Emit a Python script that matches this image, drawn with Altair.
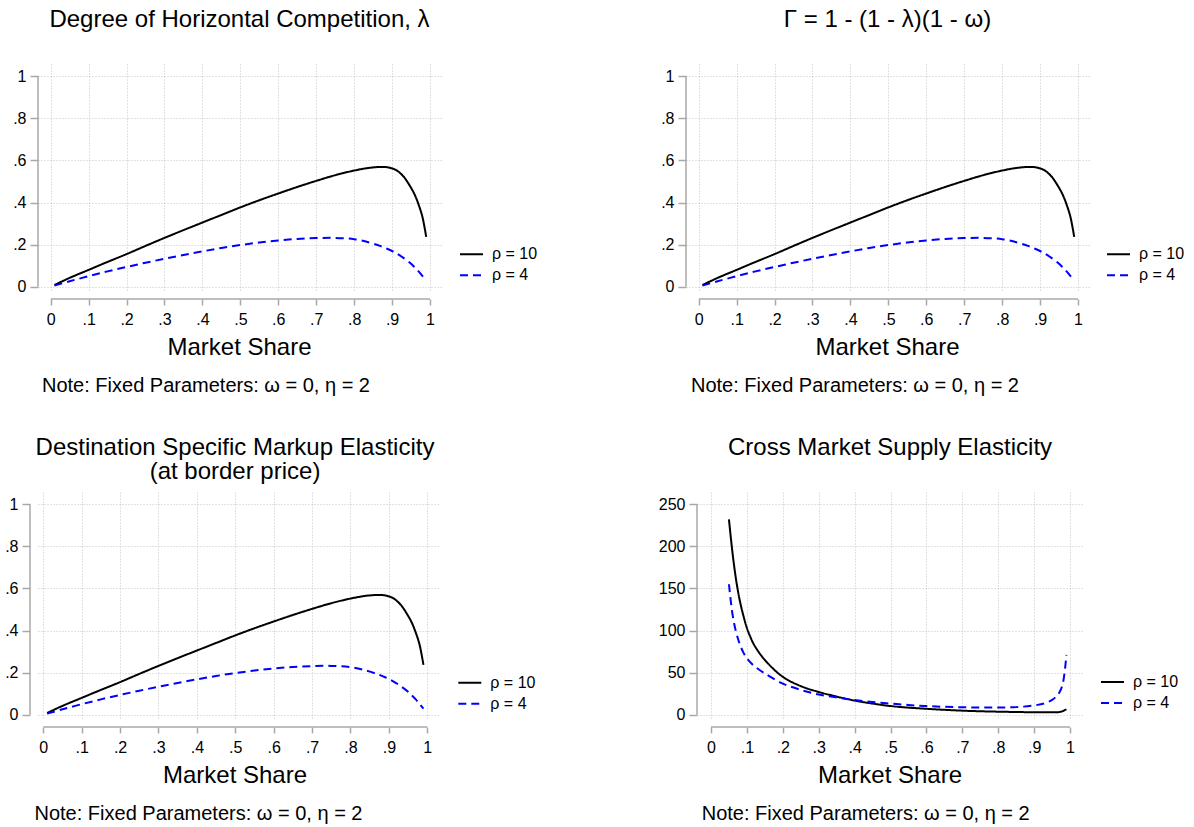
import altair as alt
import pandas as pd

FONT = "Liberation Sans"
SERIES = ["ρ = 10", "ρ = 4"]
LINE_COLORS = ["#000000", "#0000ff"]
LINE_DASHES = [[1, 0], [8, 5]]
AXIS_GRAY = "#a8a8a8"
GRID_GRAY = "#c4c4c4"

# ---- data -------------------------------------------------------------
share_a = [0.01, 0.05, 0.10, 0.15, 0.20, 0.25, 0.30, 0.35, 0.40, 0.45, 0.50,
           0.55, 0.60, 0.65, 0.70, 0.75, 0.80, 0.84, 0.87, 0.89, 0.91, 0.93,
           0.95, 0.96, 0.97, 0.98, 0.99]
lambda_rho10 = [0.008, 0.042, 0.080, 0.118, 0.155, 0.194, 0.232, 0.269, 0.305,
                0.341, 0.377, 0.411, 0.443, 0.474, 0.503, 0.530, 0.552, 0.565,
                0.569, 0.567, 0.555, 0.524, 0.470, 0.436, 0.390, 0.332, 0.237]
lambda_rho4 = [0.005, 0.026, 0.050, 0.073, 0.094, 0.114, 0.133, 0.151, 0.168,
               0.184, 0.198, 0.210, 0.220, 0.227, 0.231, 0.232, 0.226, 0.210,
               0.193, 0.178, 0.160, 0.137, 0.109, 0.091, 0.073, 0.051, 0.029]
# with omega = 0 the Gamma panel and the markup-elasticity panel show the same curves
gamma_rho10 = list(lambda_rho10)
gamma_rho4 = list(lambda_rho4)
markup_rho10 = list(lambda_rho10)
markup_rho4 = list(lambda_rho4)

share_b = [0.05, 0.06, 0.07, 0.08, 0.09, 0.10, 0.11, 0.12, 0.15, 0.20, 0.25,
           0.30, 0.35, 0.40, 0.45, 0.50, 0.55, 0.60, 0.65, 0.70, 0.75, 0.80,
           0.85, 0.90, 0.93, 0.95, 0.96, 0.97, 0.98, 0.99]
cross_rho10 = [232, 192, 160, 136, 118, 103, 92, 83, 65, 45, 34, 27, 21.5,
               16.8, 13.2, 10.3, 8.4, 7.0, 5.8, 4.8, 4.1, 3.6, 3.2, 2.9, 2.8,
               2.8, 2.9, 3.2, 4.2, 6.5]
cross_rho4 = [155, 119, 98, 84, 74, 67, 62, 58, 49, 37, 29.5, 24, 20.5, 17.4,
              15, 13.2, 11.5, 10.3, 9.4, 8.8, 8.5, 8.5, 9.0, 11, 13.5, 17.5,
              21, 26, 37, 71]

x_ticks = [0, 0.1, 0.2, 0.3, 0.4, 0.5, 0.6, 0.7, 0.8, 0.9, 1]
y_ticks_unit = [0, 0.2, 0.4, 0.6, 0.8, 1]
y_ticks_cross = [0, 50, 100, 150, 200, 250]

title_tl = ["Degree of Horizontal Competition, λ"]
title_tr = ["Γ = 1 - (1 - λ)(1 - ω)"]
title_bl = ["Destination Specific Markup Elasticity", "(at border price)"]
title_br = ["Cross Market Supply Elasticity"]
x_title = "Market Share"
note_text = "Note: Fixed Parameters: ω = 0, η = 2"

H = 227
dummy = pd.DataFrame({"k": [0]})
UNIT_LABELS = "replace(format(datum.value, '.1~f'), '0.', '.')"


def series_frame(share, a, b):
    return pd.DataFrame({
        "share": list(share) + list(share),
        "value": list(a) + list(b),
        "series": [SERIES[0]] * len(a) + [SERIES[1]] * len(b),
    })


def text_layer(text, x, y, size, align="center"):
    return alt.Chart(dummy).mark_text(
        text=text, font=FONT, fontSize=size, align=align,
        baseline="alphabetic", color="black", lineHeight=24.3
    ).encode(x=alt.value(x), y=alt.value(y))


def panel(df, title_lines, W, xdom, ydom, yticks, ylabel_expr, yoff,
          cx, note_x, legend_x, legend_y, anchor):
    xscale = alt.Scale(domain=xdom, nice=False, zero=False)
    yscale = alt.Scale(domain=ydom, nice=False, zero=False)
    xaxis = alt.Axis(
        values=x_ticks, domain=False, grid=True, gridColor=GRID_GRAY,
        gridDash=[1, 2], gridWidth=1, ticks=True, tickSize=6,
        tickColor=AXIS_GRAY, tickWidth=1.5, offset=8, labelFont=FONT,
        labelFontSize=16, labelColor="black", labelPadding=6,
        labelExpr=UNIT_LABELS, labelFlush=False, labelOverlap=False,
        title=None)
    yaxis = alt.Axis(
        values=yticks, domain=False, grid=True, gridColor=GRID_GRAY,
        gridDash=[1, 2], gridWidth=1, ticks=True, tickSize=8,
        tickColor=AXIS_GRAY, tickWidth=1.5, offset=yoff, labelFont=FONT,
        labelFontSize=16, labelColor="black", labelPadding=4,
        labelExpr=ylabel_expr, labelFlush=False, labelOverlap=False,
        title=None)
    leg = alt.Legend(
        orient="none", legendX=legend_x, legendY=legend_y, title=None,
        symbolType="stroke", symbolSize=529, symbolStrokeWidth=2,
        labelFont=FONT, labelFontSize=16, labelColor="black",
        labelOffset=8, rowPadding=0, padding=0, direction="vertical",
    )
    lines = alt.Chart(df).mark_line(strokeWidth=2, interpolate="catmull-rom").encode(
        x=alt.X("share:Q", scale=xscale, axis=xaxis),
        y=alt.Y("value:Q", scale=yscale, axis=yaxis),
        color=alt.Color("series:N", scale=alt.Scale(domain=SERIES, range=LINE_COLORS), legend=leg),
        strokeDash=alt.StrokeDash("series:N", scale=alt.Scale(domain=SERIES, range=LINE_DASHES), legend=leg),
    )
    yline = alt.Chart(pd.DataFrame({"share": [x_ticks[0]], "value": [yticks[0]], "hi": [yticks[-1]]})).mark_rule(
        color=AXIS_GRAY, strokeWidth=1.5
    ).encode(x=alt.value(-yoff), y=alt.Y("value:Q", scale=yscale, axis=yaxis), y2="hi:Q")
    xline = alt.Chart(pd.DataFrame({"share": [x_ticks[0]], "hi": [x_ticks[-1]]})).mark_rule(
        color=AXIS_GRAY, strokeWidth=1.5
    ).encode(y=alt.value(H + 8), x=alt.X("share:Q", scale=xscale, axis=xaxis), x2="hi:Q")
    title = text_layer(title_lines, cx, -37, 24)
    xt = text_layer(x_title, cx, 291, 24)
    note = text_layer(note_text, note_x, 327.5, 20, align="left")
    L, T, R, B = anchor
    anch = alt.Chart(dummy).mark_rule(opacity=0).encode(
        x=alt.value(L), y=alt.value(T), x2=alt.value(R), y2=alt.value(B))
    return alt.layer(lines, yline, xline, title, xt, note, anch).properties(width=W, height=H)


unit_ydom = [-0.0204, 1.0585]

tl = panel(series_frame(share_a, lambda_rho10, lambda_rho4), title_tl, 403,
           [-0.0335, 1.029], unit_ydom, y_ticks_unit, UNIT_LABELS, 0,
           201.5, 4, 421, 177.8, (-38, -64, 522, 341))
tr = panel(series_frame(share_a, gamma_rho10, gamma_rho4), title_tr, 403,
           [-0.0335, 1.029], unit_ydom, y_ticks_unit, UNIT_LABELS, 0,
           201.5, 5, 420, 177.8, (-126, -64, 0, 341))
bl = panel(series_frame(share_a, markup_rho10, markup_rho4), title_bl, 402,
           [-0.0138, 1.0331], unit_ydom, y_ticks_unit, UNIT_LABELS, 8,
           197, -3.5, 419.3, 178.2, (-38, -87, 522, 0))
br = panel(series_frame(share_b, cross_rho10, cross_rho4), title_br, 386,
           [-0.039, 1.0362], [-5.11, 264.6], y_ticks_cross,
           "format(datum.value, 'd')", 0,
           193, 4.7, 403, 177.5, (-137, -87, 0, 0))

chart = alt.concat(
    tl, tr, bl, br, columns=2, spacing=0, align="none", bounds="full"
).resolve_scale(
    color="independent", strokeDash="independent"
).resolve_legend(
    color="independent", strokeDash="independent"
).properties(padding=0).configure_view(stroke=None).configure_legend(
    labelFont=FONT, labelFontSize=16, labelColor="black"
)

chart.save("out.html", embed_options={"renderer": "svg", "actions": False})
